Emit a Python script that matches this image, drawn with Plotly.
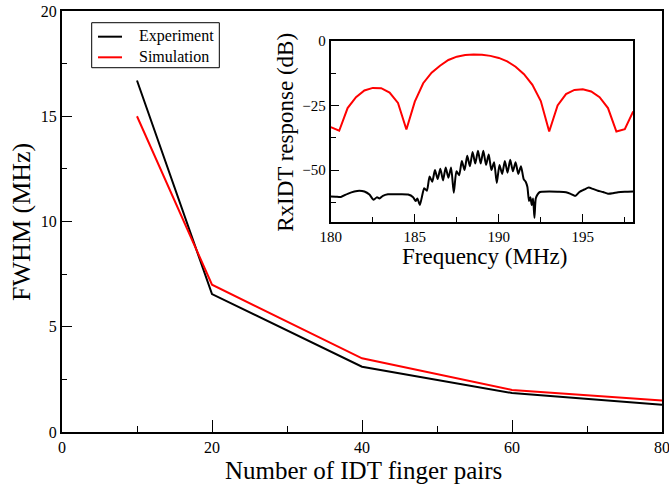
import plotly.graph_objects as go

# Main plot data
finger_pairs = [10, 20, 40, 60, 80]
fwhm_experiment = [16.7, 6.55, 3.1, 1.85, 1.3]
fwhm_simulation = [15.0, 7.0, 3.5, 2.0, 1.5]
series_names = ["Experiment", "Simulation"]
series_colors = ["black", "red"]

# Inset: simulation response (0.5 MHz steps)
sim_freq = [180.0, 180.5, 181.0, 181.5, 182.0, 182.5, 183.0, 183.5, 184.0, 184.5,
            185.0, 185.5, 186.0, 186.5, 187.0, 187.5, 188.0, 188.5, 189.0, 189.5,
            190.0, 190.5, 191.0, 191.5, 192.0, 192.5, 193.0, 193.5, 194.0, 194.5,
            195.0, 195.5, 196.0, 196.5, 197.0, 197.5, 198.0]
sim_db = [-33.4, -34.8, -26.0, -21.8, -19.2, -18.2, -18.3, -20.0, -24.0, -34.3,
          -23.5, -16.4, -12.3, -9.6, -7.4, -6.1, -5.5, -5.3, -5.4, -5.8,
          -6.6, -7.9, -10.0, -12.9, -17.0, -23.3, -35.1, -25.0, -20.6, -19.0,
          -18.7, -19.6, -21.8, -26.0, -35.1, -34.2, -27.3]

# Inset: experimental response
exp_freq = [180.0, 180.3, 180.6, 181.0, 181.4, 181.7, 182.0, 182.3, 182.55, 182.75,
            182.9, 183.1, 183.4, 184.0, 184.6, 184.9, 185.05, 185.15, 185.3, 185.42,
            185.56, 185.72, 185.88, 186.04, 186.20, 186.36, 186.52, 186.68, 186.84, 187.00,
            187.16, 187.32, 187.48, 187.64, 187.80, 187.96, 188.12, 188.28, 188.44, 188.60,
            188.76, 188.92, 189.08, 189.24, 189.40, 189.56, 189.72, 189.88, 190.04, 190.20,
            190.36, 190.52, 190.68, 190.84, 191.00, 191.16, 191.32, 191.48, 191.60, 191.70,
            191.80, 191.88, 191.96, 192.04, 192.12, 192.20, 192.30, 192.45, 192.60, 193.0,
            193.5, 194.0, 194.3, 194.55, 194.8, 195.1, 195.35, 195.6, 195.9, 196.2,
            196.5, 196.8, 197.1, 197.5, 198.0]
exp_db = [-60.2, -60.3, -60.4, -59.2, -58.3, -58.0, -58.3, -59.5, -61.5, -60.5,
          -61.0, -60.0, -59.4, -59.4, -59.5, -60.5, -62.0, -61.0, -63.5, -60.5,
          -57.0, -58.0, -52.5, -54.5, -50.0, -53.5, -49.5, -54.0, -49.0, -53.0,
          -49.0, -58.8, -50.5, -52.0, -46.5, -50.0, -44.5, -48.5, -43.0, -47.5,
          -42.5, -47.5, -42.5, -48.0, -44.0, -50.0, -47.0, -55.0, -48.0, -51.5,
          -46.5, -51.0, -46.0, -50.5, -47.0, -51.5, -48.5, -53.5, -54.5, -56.5,
          -62.0, -60.5, -63.5, -61.0, -68.5, -61.0, -59.5, -58.5, -58.4, -58.3,
          -58.4, -58.6, -59.3, -60.0, -58.5, -57.5, -56.8, -57.3, -58.0, -58.5,
          -59.2, -59.0, -58.6, -58.4, -58.3]

# Axis titles
x_title = "Number of IDT finger pairs"
y_title = "FWHM (MHz)"
inset_x_title = "Frequency (MHz)"
inset_y_title = "RxIDT response (dB)"

FONT = "Liberation Serif, Times New Roman, serif"

fig = go.Figure()
fig.add_trace(go.Scatter(x=finger_pairs, y=fwhm_experiment, mode="lines", name=series_names[0],
                         showlegend=False, line=dict(color=series_colors[0], width=2)))
fig.add_trace(go.Scatter(x=finger_pairs, y=fwhm_simulation, mode="lines", name=series_names[1],
                         showlegend=False, line=dict(color=series_colors[1], width=2)))
fig.add_trace(go.Scatter(x=sim_freq, y=sim_db, mode="lines", showlegend=False,
                         xaxis="x2", yaxis="y2", line=dict(color="red", width=2)))
fig.add_trace(go.Scatter(x=exp_freq, y=exp_db, mode="lines", showlegend=False,
                         xaxis="x2", yaxis="y2",
                         line=dict(color="black", width=2, shape="spline", smoothing=0.6)))

axis_common = dict(showgrid=False, zeroline=False, showline=True, linecolor="black",
                   mirror=True, ticks="inside", tickcolor="black", automargin=False,
                   ticklabeloverflow="allow")

# Legend key drawn as a boxed key in the upper left of the main plot
legend_shapes = [dict(type="rect", xref="paper", yref="paper", x0=0.0495, x1=0.2622,
                      y0=0.8653, y1=0.9722, line=dict(color="black", width=1),
                      fillcolor="white", layer="above")]
legend_annots = []
for i, (nm, col) in enumerate(zip(series_names, series_colors)):
    yy = 0.939 - i * 0.049
    legend_shapes.append(dict(type="line", xref="paper", yref="paper", x0=0.06, x1=0.10,
                              y0=yy, y1=yy, line=dict(color=col, width=2), layer="above"))
    legend_annots.append(dict(text=nm, xref="paper", yref="paper", x=0.1245, y=yy + 0.001,
                              xanchor="left", yanchor="middle", showarrow=False,
                              font=dict(size=16)))

fig.update_layout(
    width=669, height=487,
    margin=dict(l=62, r=7, t=11, b=55, autoexpand=False),
    paper_bgcolor="white", plot_bgcolor="white",
    font=dict(family=FONT, color="black", size=15),
    showlegend=False,
    xaxis=dict(**axis_common, domain=[0, 1], range=[0, 80], dtick=20, tick0=0,
               ticklen=12, tickwidth=1, linewidth=2,
               minor=dict(dtick=10, ticklen=6, ticks="inside", tickcolor="black"),
               tickfont=dict(size=16)),
    yaxis=dict(**axis_common, domain=[0, 1], range=[0, 20], dtick=5, tick0=0,
               ticklen=10, tickwidth=1, linewidth=2,
               minor=dict(dtick=2.5, ticklen=5, ticks="inside", tickcolor="black"),
               tickfont=dict(size=16)),
    xaxis2=dict(**axis_common, domain=[0.448, 0.952], range=[180, 198], dtick=5, tick0=180,
                anchor="y2", ticklen=8, linewidth=2,
                minor=dict(dtick=2.5, ticklen=5, ticks="inside", tickcolor="black"),
                tickfont=dict(size=15)),
    yaxis2=dict(**axis_common, domain=[0.4995, 0.929], range=[-70, 0], dtick=25, tick0=0,
                anchor="x2", ticklen=8, linewidth=2,
                minor=dict(dtick=12.5, ticklen=5, ticks="inside", tickcolor="black"),
                tickfont=dict(size=15)),
    shapes=legend_shapes,
    annotations=[
        dict(text=x_title, xref="paper", yref="paper", x=0.502, y=-0.0903,
             xanchor="center", yanchor="middle", showarrow=False, font=dict(size=25)),
        dict(text=y_title, xref="paper", yref="paper", x=-0.0667, y=0.499, textangle=-90,
             xanchor="center", yanchor="middle", showarrow=False, font=dict(size=26)),
        dict(text=inset_x_title, xref="paper", yref="paper", x=0.704, y=0.4157,
             xanchor="center", yanchor="middle", showarrow=False, font=dict(size=23)),
        dict(text=inset_y_title, xref="paper", yref="paper", x=0.373, y=0.7126, textangle=-90,
             xanchor="center", yanchor="middle", showarrow=False, font=dict(size=23)),
    ] + legend_annots,
)

fig.write_html("out.html", config={"displayModeBar": False},
               post_script="document.body.style.margin='0';document.body.style.padding='0';")
